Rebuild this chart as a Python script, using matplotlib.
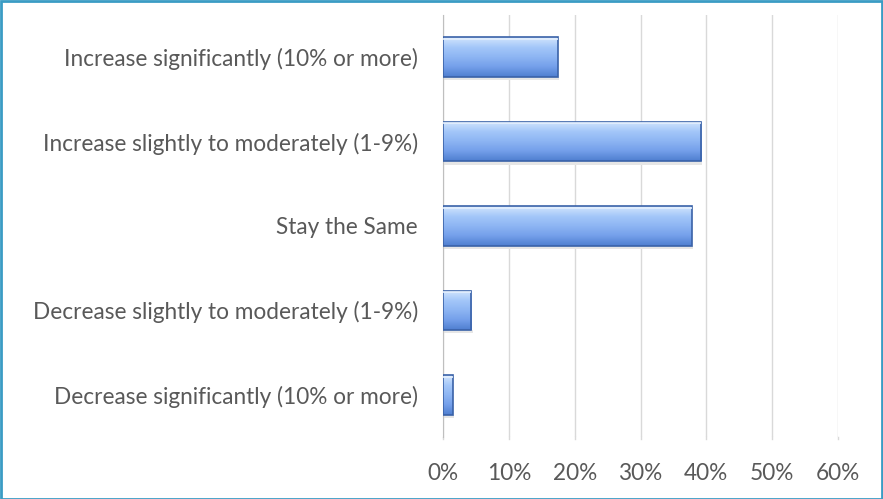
import numpy as np
import matplotlib.pyplot as plt
from matplotlib.patches import Rectangle
from matplotlib.colors import LinearSegmentedColormap

plt.rcParams["font.family"] = ["Lato", "DejaVu Sans"]

categories = [
    "Decrease significantly (10% or more)",
    "Decrease slightly to moderately (1-9%)",
    "Stay the Same",
    "Increase slightly to moderately (1-9%)",
    "Increase significantly (10% or more)",
]
values = [0.015, 0.043, 0.378, 0.392, 0.174]
xticks = [0, 0.1, 0.2, 0.3, 0.4, 0.5, 0.6]
xtick_labels = ["0%", "10%", "20%", "30%", "40%", "50%", "60%"]

W, H = 883, 499
fig = plt.figure(figsize=(W / 100, H / 100), dpi=100)
ax = fig.add_axes([443 / W, 62 / H, (838 - 443) / W, (499 - 15 - 62) / H])

y = np.arange(len(categories))
bars = ax.barh(y, values, height=0.47, color="#8DB4F0", edgecolor="none", zorder=3)

# bevel look: vertical gradient + dark lower/right edge + light top edge
grad = LinearSegmentedColormap.from_list(
    "bev", ["#4F7FD0", "#749FEA", "#8DB5F3", "#A4C7F9", "#D2E5FD"])
g = np.linspace(0, 1, 64).reshape(-1, 1)
for b in bars:
    x0, y0 = b.get_x(), b.get_y()
    w, h = b.get_width(), b.get_height()
    im = ax.imshow(g, cmap=grad, aspect="auto", origin="lower",
                   extent=[x0, x0 + w, y0, y0 + h], zorder=3.5)
    im.set_clip_path(b)
    ax.add_patch(Rectangle((x0, y0), w, h, fill=False, edgecolor="#3A62A8",
                           lw=1.2, zorder=4))
    ax.plot([x0, x0 + w], [y0 + h * 0.96, y0 + h * 0.96], color="#E4F0FE",
            lw=1.2, zorder=4.5, solid_capstyle="butt")
    # soft shadow
    ax.add_patch(Rectangle((x0 + 0.002, y0 - h * 0.08), w, h * 0.08,
                           facecolor="#E6E6E6", edgecolor="none", zorder=2.5))

ax.set_xlim(0, 0.6)
ax.set_ylim(-0.5, len(categories) - 0.5)
ax.set_xticks(xticks)
ax.set_xticklabels(xtick_labels)
ax.set_yticks(y)
ax.set_yticklabels(categories)
ax.grid(axis="x", color="#D9D9D9", lw=1, zorder=0)
ax.set_axisbelow(True)
for s in ["top", "right", "bottom"]:
    ax.spines[s].set_visible(False)
ax.spines["left"].set_color("#BFBFBF")
ax.tick_params(axis="x", length=0, pad=19, labelsize=16.3, labelcolor="#595959")
ax.tick_params(axis="y", length=0, pad=18, labelsize=16.3, labelcolor="#595959")

# short tick marks below the axis for gridlines
for t in xticks:
    ax.plot([t, t], [-0.5, -0.52], color="#D9D9D9", lw=1, clip_on=False)

fig.patches.append(Rectangle((0.5 / W, 0.5 / H), 1 - 1.5 / W, 1 - 1.5 / H,
                             transform=fig.transFigure, fill=False,
                             edgecolor="#3A9CC4", lw=2))

fig.savefig("out.png", dpi=100)
